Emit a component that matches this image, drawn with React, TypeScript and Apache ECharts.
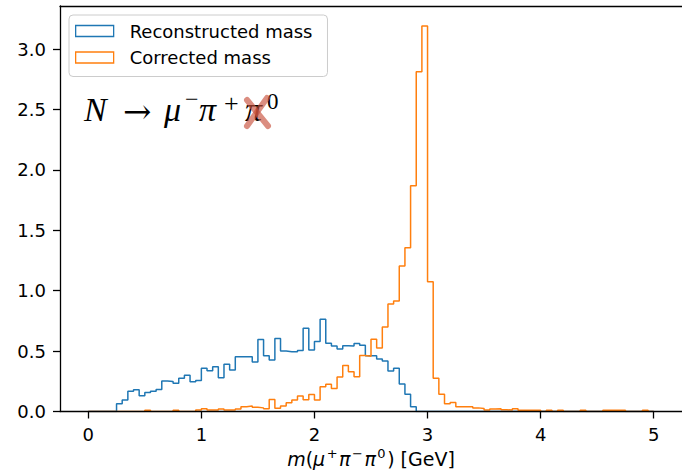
import React, { useEffect, useRef } from 'react';
import * as echarts from 'echarts';

const binStart = 0;
const binWidth = 0.05;

const reconstructedMass = [
  0, 0, 0, 0, 0, 0.065, 0.095, 0.168, 0.18, 0.13,
  0.157, 0.168, 0.182, 0.253, 0.248, 0.233, 0.275, 0.3, 0.246, 0.257,
  0.357, 0.338, 0.37, 0.28, 0.392, 0.343, 0.453, 0.453, 0.453, 0.41,
  0.595, 0.462, 0.426, 0.605, 0.5, 0.495, 0.495, 0.505, 0.69, 0.51,
  0.58, 0.763, 0.565, 0.542, 0.517, 0.545, 0.542, 0.562, 0.548, 0.462,
  0.462, 0.435, 0.418, 0.335, 0.357, 0.228, 0.142, 0.04, 0, 0,
  0, 0, 0, 0, 0, 0, 0, 0, 0, 0,
  0, 0, 0, 0, 0, 0, 0, 0, 0, 0,
  0, 0, 0, 0, 0, 0, 0, 0, 0, 0,
  0, 0, 0, 0, 0, 0, 0, 0, 0, 0,
];

const correctedMass = [
  0, 0, 0, 0, 0, 0, 0, 0, 0, 0,
  0.01, 0, 0, 0, 0, 0.01, 0, 0, 0, 0.012,
  0.023, 0.012, 0.012, 0.02, 0.012, 0.012, 0.02, 0.04, 0.045, 0.035,
  0.03, 0.022, 0.1, 0.026, 0.045, 0.073, 0.095, 0.128, 0.098, 0.14,
  0.095, 0.205, 0.225, 0.19, 0.285, 0.38, 0.33, 0.288, 0.463, 0.458,
  0.597, 0.525, 0.7, 0.89, 0.915, 1.204, 1.356, 1.869, 2.812, 3.19,
  1.074, 0.275, 0.142, 0.065, 0.075, 0.04, 0.04, 0.04, 0.03, 0.025,
  0.012, 0.02, 0.023, 0.015, 0.012, 0.022, 0.01, 0.01, 0.01, 0.01,
  0, 0.01, 0, 0.01, 0, 0, 0, 0.01, 0, 0,
  0, 0.01, 0.01, 0.01, 0.01, 0, 0, 0, 0.01, 0,
];

const xTicks = [0, 1, 2, 3, 4, 5];
const yTicks = [0, 0.5, 1.0, 1.5, 2.0, 2.5, 3.0];
const seriesNames = ['Reconstructed mass', 'Corrected mass'];
const seriesColors = ['#1f77b4', '#ff7f0e'];

function stepPoints(values: number[]): number[][] {
  const pts: number[][] = [[binStart, 0]];
  values.forEach((v, i) => pts.push([binStart + i * binWidth, v]));
  const end = binStart + values.length * binWidth;
  pts.push([end, values[values.length - 1]]);
  pts.push([end, 0]);
  return pts;
}

const FONT = 'DejaVu Sans';
const SERIF = 'Liberation Serif';

export default function App() {
  const ref = useRef<HTMLDivElement>(null);
  useEffect(() => {
    if (!ref.current) return;
    const chart = echarts.init(ref.current, undefined, { renderer: 'svg' });
    const axisLineStyle = { color: '#000', width: 1.3 };
    const t = (text: string, x: number, y: number, size: number, italic: boolean, family = SERIF) => ({
      type: 'text',
      x,
      y,
      z: 30,
      style: {
        text,
        fontFamily: family,
        fontStyle: italic ? 'italic' : 'normal',
        fontSize: size,
        fill: '#000',
        align: 'left',
        verticalAlign: 'middle',
      },
    });
    const option: any = {
      animation: false,
      grid: { left: 60, right: -2, top: 6, bottom: 60.5 },
      legend: {
        orient: 'vertical',
        left: 69,
        top: 15,
        padding: [6, 15, 9, 6],
        itemGap: 6.5,
        itemWidth: 38,
        itemHeight: 11,
        backgroundColor: 'rgba(255,255,255,0.8)',
        borderColor: '#cccccc',
        borderWidth: 1,
        borderRadius: 4,
        z: 20,
        textStyle: {
          fontFamily: FONT,
          fontSize: 18,
          color: '#000',
          lineHeight: 20,
          padding: [0, 0, 0, 11],
        },
        data: seriesNames.map((n, i) => ({
          name: n,
          icon: 'rect',
          itemStyle: { color: 'rgba(0,0,0,0)', borderColor: seriesColors[i], borderWidth: 1.3 },
        })),
      },
      xAxis: [
        {
          type: 'value',
          min: -0.25,
          max: 5.25,
          z: 5,
          axisLine: { show: true, onZero: false, lineStyle: axisLineStyle },
          axisTick: { show: true, customValues: xTicks, length: 7, lineStyle: axisLineStyle },
          axisLabel: {
            customValues: xTicks,
            margin: 14,
            fontSize: 18,
            fontFamily: FONT,
            color: '#000',
            formatter: (v: number) => String(v),
          },
          splitLine: { show: false },
        },
        {
          type: 'value',
          position: 'top',
          min: -0.25,
          max: 5.25,
          z: 5,
          axisLine: { show: true, onZero: false, lineStyle: axisLineStyle },
          axisTick: { show: false },
          axisLabel: { show: false },
          splitLine: { show: false },
        },
      ],
      yAxis: [
        {
          type: 'value',
          min: 0,
          max: 3.356,
          z: 5,
          axisLine: { show: true, onZero: false, lineStyle: axisLineStyle },
          axisTick: { show: true, customValues: yTicks, length: 7, lineStyle: axisLineStyle },
          axisLabel: {
            customValues: yTicks,
            margin: 14,
            fontSize: 18,
            fontFamily: FONT,
            color: '#000',
            formatter: (v: number) => v.toFixed(1),
          },
          splitLine: { show: false },
        },
      ],
      series: [reconstructedMass, correctedMass].map((vals, i) => ({
        name: seriesNames[i],
        type: 'line',
        step: 'end',
        xAxisIndex: 0,
        yAxisIndex: 0,
        showSymbol: false,
        symbol: 'none',
        data: stepPoints(vals),
        itemStyle: { color: seriesColors[i] },
        lineStyle: { color: seriesColors[i], width: 1.5 },
        z: 2 + i,
      })),
      graphic: [
        t('N', 84, 109, 34, true),
        t('→', 123, 111, 34, false, 'DejaVu Serif'),
        t('μ', 164, 109, 34, true),
        t('−', 185, 99, 24, false),
        t('π', 199, 109, 34, true),
        t('+', 224, 103, 26, false),
        t('π', 245, 109, 34, true),
        t('0', 267, 101, 23, false),
        { type: 'line', z: 31, shape: { x1: 247, y1: 100, x2: 268, y2: 126 }, style: { stroke: 'rgba(200,80,60,0.65)', lineWidth: 6, lineCap: 'round' } },
        { type: 'line', z: 31, shape: { x1: 267, y1: 98, x2: 247, y2: 126 }, style: { stroke: 'rgba(200,80,60,0.65)', lineWidth: 6, lineCap: 'round' } },
        {
          type: 'text',
          x: 371,
          y: 459,
          z: 30,
          style: {
            text: '{i|m}{n|(}{i|μ}{s|+}{i|π}{s|−}{i|π}{s|0}{n|) [GeV]}',
            align: 'center',
            verticalAlign: 'middle',
            fill: '#000',
            rich: {
              i: { fontFamily: FONT, fontStyle: 'italic', fontSize: 19, lineHeight: 24, verticalAlign: 'middle', color: '#000' },
              n: { fontFamily: FONT, fontSize: 19, lineHeight: 24, verticalAlign: 'middle', color: '#000' },
              s: { fontFamily: FONT, fontSize: 13, lineHeight: 14, verticalAlign: 'top', color: '#000', padding: [0, 1.5, 0, 1.5] },
            },
          },
        },
      ],
    };
    chart.setOption(option);
    return () => chart.dispose();
  }, []);
  return (
    <div
      ref={ref}
      style={{ position: 'fixed', left: 0, top: 0, width: 682, height: 472, background: '#fff' }}
    />
  );
}
